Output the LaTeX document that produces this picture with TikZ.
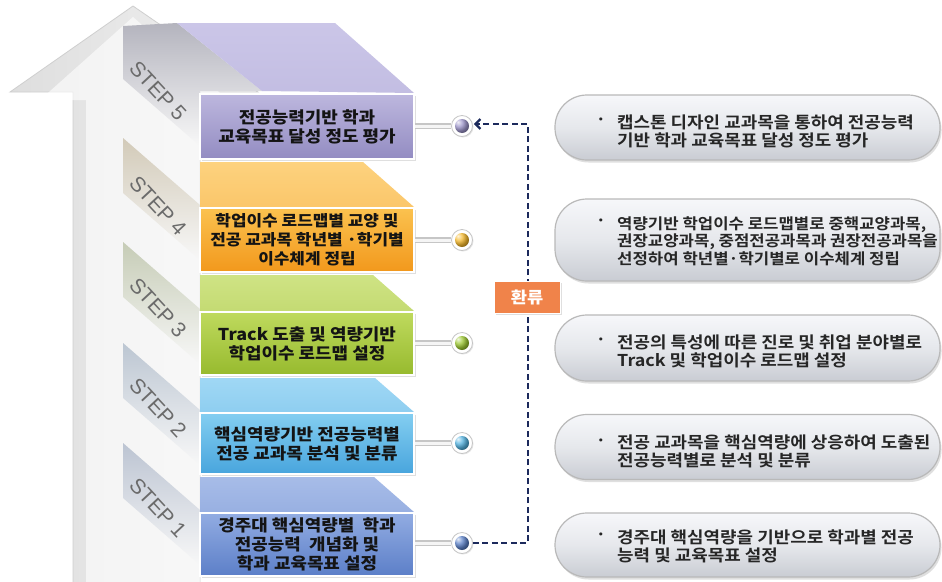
\documentclass[tikz,border=0pt]{standalone}
\usepackage{fontspec}
\IfFontExistsTF{Noto Sans CJK KR Bold}
  {\newfontfamily\kr[FakeStretch=1.1]{Noto Sans CJK KR Bold}}
  {\newfontfamily\kr[FakeStretch=1.1,FakeBold=2]{Noto Sans CJK KR}}
\IfFontExistsTF{Noto Sans CJK KR Black}
  {\newfontfamily\krh[FakeStretch=1.1]{Noto Sans CJK KR Black}}
  {\newfontfamily\krh[FakeStretch=1.1,FakeBold=1.5]{Noto Sans CJK KR Bold}}
\newfontfamily\stepfont{Liberation Sans}
\usetikzlibrary{shadows,arrows.meta}
\definecolor{sAf}{HTML}{BDB7DE}\definecolor{sAb}{HTML}{938CC2}\definecolor{sAt}{HTML}{CBC6E8}\definecolor{sAk}{HTML}{9A92C8}\definecolor{sAn}{HTML}{B4B4BE}
\definecolor{sBf}{HTML}{FBC24F}\definecolor{sBb}{HTML}{F2981C}\definecolor{sBt}{HTML}{FDD27E}\definecolor{sBk}{HTML}{F5B82A}\definecolor{sBn}{HTML}{D2CAB8}
\definecolor{sCf}{HTML}{BFDA5E}\definecolor{sCb}{HTML}{97BA2E}\definecolor{sCt}{HTML}{CFE384}\definecolor{sCk}{HTML}{9CC830}\definecolor{sCn}{HTML}{C6CCB6}
\definecolor{sDf}{HTML}{84CEF1}\definecolor{sDb}{HTML}{48A5DD}\definecolor{sDt}{HTML}{A0D8F5}\definecolor{sDk}{HTML}{52B2E0}\definecolor{sDn}{HTML}{BCC6D2}
\definecolor{sEf}{HTML}{92ACE2}\definecolor{sEb}{HTML}{5C7FC8}\definecolor{sEt}{HTML}{A7BCE8}\definecolor{sEk}{HTML}{5A80C8}\definecolor{sEn}{HTML}{BCC4D2}
\definecolor{navy}{HTML}{1C2A5C}
\definecolor{fborange}{HTML}{F0834A}
\definecolor{pilltop}{HTML}{F6F7FA}\definecolor{pillmid}{HTML}{E6E8EC}\definecolor{pillbot}{HTML}{C9CCD3}
\begin{document}
\begin{tikzpicture}[x=1pt,y=-1pt,
  front/.style n args={2}{draw=white, line width=1.5pt, top color=#1, bottom color=#2,
     minimum width=214pt, inner sep=0pt, align=center,
     font=\krh\fontsize{16.3}{19}\selectfont, text=black!92,
     drop shadow={shadow xshift=2pt, shadow yshift=-2pt, opacity=.25}},
  steplabel/.style={font=\stepfont\fontsize{21}{21}\selectfont, text=black!58, inner sep=0pt},
  knob/.style={circle, minimum size=21pt, inner sep=0pt, draw=gray!45, line width=.8pt, fill=white,
     drop shadow={shadow xshift=1pt, shadow yshift=-1pt, opacity=.2},
     path picture={\shade[ball color=#1] (path picture bounding box.center) circle (7pt);}},
  pipe/.style={draw=gray!45, line width=1.6pt, double=white!92!gray, double distance=3pt},
  fbline/.style={draw=navy, line width=2.6pt, dash pattern=on 6pt off 3.5pt},
  fbbox/.style={fill=fborange, draw=white, line width=1pt, minimum width=66pt, minimum height=32pt,
     text=white, font=\krh\fontsize{16}{19}\selectfont,
     drop shadow={shadow xshift=1.5pt, shadow yshift=-1.5pt, opacity=.25}},
  pill/.style={rounded corners=32pt, draw=gray!55, line width=1.2pt, top color=pilltop, bottom color=pillbot,
     middle color=pillmid, minimum width=385pt,
     drop shadow={shadow xshift=1.5pt, shadow yshift=-2.5pt, opacity=.25}},
  pilltext/.style={align=left, inner sep=0pt, font=\kr\fontsize{16.3}{18}\selectfont, text=black!85},
]
\useasboundingbox (0,0) rectangle (942,581);
\fill[white] (0,0) rectangle (942,581);

% big arrow
\shade[left color=gray!26, right color=gray!10, draw=gray!38, line width=.8pt]
  (73,585) -- (73,92) -- (10,92) -- (133,6) -- (258,92) -- (200,92) -- (200,585) -- cycle;
\fill[white, opacity=.6]
  (86,585) -- (86,100) -- (40,100) -- (133,17) -- (228,100) -- (200,100) -- (200,585) -- cycle;

% side bands
\shade[top color=sAn, bottom color=white!94!gray] (123,26) -- (177,23) -- (262,91) -- (200,91) -- (200,146) -- (123,79) -- cycle;
\shade[top color=sBn, bottom color=white!94!gray] (123,138) -- (200,205) -- (200,260) -- (123,193) -- cycle;
\shade[top color=sCn, bottom color=white!94!gray] (123,242) -- (200,309) -- (200,364) -- (123,297) -- cycle;
\shade[top color=sDn, bottom color=white!94!gray] (123,343) -- (200,410) -- (200,465) -- (123,398) -- cycle;
\shade[top color=sEn, bottom color=white!94!gray] (123,443) -- (200,510) -- (200,565) -- (123,498) -- cycle;

% step labels
\node[steplabel, rotate=-47] (l5) at (158,91) {STEP 5};
\node[steplabel, rotate=-47] (l4) at (158,206) {STEP 4};
\node[steplabel, rotate=-47] (l3) at (158,308) {STEP 3};
\node[steplabel, rotate=-47] (l2) at (158,408) {STEP 2};
\node[steplabel, rotate=-47] (l1) at (158,508) {STEP 1};

% top faces
\shade[top color=sAt, bottom color=sAt!85!sAb] (177,23) -- (335,23) -- (414,93) -- (262,91) -- cycle;
\shade[top color=sBt, bottom color=sBt!80!sBb] (200,162) -- (363,162) -- (414,207) -- (200,207) -- cycle;
\shade[top color=sCt, bottom color=sCt!80!sCb] (200,275) -- (373,275) -- (414,311) -- (200,311) -- cycle;
\shade[top color=sDt, bottom color=sDt!80!sDb] (200,378) -- (375,378) -- (414,412) -- (200,412) -- cycle;
\shade[top color=sEt, bottom color=sEt!80!sEb] (200,477) -- (374,477) -- (414,512) -- (200,512) -- cycle;

% front boxes
\node[front={sAf}{sAb}, minimum height=65pt] (b5) at (307,126.5) {전공능력기반 학과\\교육목표 달성 정도 평가};
\node[front={sBf}{sBb}, minimum height=64pt, font=\krh\fontsize{15.4}{19}\selectfont] (b4) at (307,240) {학업이수 로드맵별 교양 및\\전공 교과목 학년별 ·학기별\\이수체계 정립};
\node[front={sCf}{sCb}, minimum height=63pt] (b3) at (307,343.5) {Track 도출 및 역량기반\\학업이수 로드맵 설정};
\node[front={sDf}{sDb}, minimum height=61pt] (b2) at (307,443.5) {핵심역량기반 전공능력별\\전공 교과목 분석 및 분류};
\node[front={sEf}{sEb}, minimum height=63pt] (b1) at (307,544.5) {경주대 핵심역량별~ 학과\\전공능력~ 개념화 및\\학과 교육목표 설정};

% knobs
\node[knob=sAk] (k5) at (462,126) {};
\node[knob=sBk] (k4) at (462,240) {};
\node[knob=sCk] (k3) at (462,343) {};
\node[knob=sDk] (k2) at (462,443) {};
\node[knob=sEk] (k1) at (462,543) {};

% pipes
\draw[pipe] (b5.east |- k5.west) -- (k5.west);
\draw[pipe] (b4.east |- k4.west) -- (k4.west);
\draw[pipe] (b3.east |- k3.west) -- (k3.west);
\draw[pipe] (b2.east |- k2.west) -- (k2.west);
\draw[pipe] (b1.east |- k1.west) -- (k1.west);

% feedback loop
\coordinate (r1) at (528,543);
\coordinate (r5) at (528,124);
\draw[fbline, -{Straight Barb[length=5pt, width=10pt, line width=2.2pt]}, shorten >=1pt]
  (k1.east) -- (r1) -- (r5) -- (k5.east |- r5);
\node[fbbox] (fb) at (527,297) {환류};

% pills
\node[pill, minimum height=65pt] (p5) at (747.5,127.5) {};
\node[pill, minimum height=82pt] (p4) at (747.5,240) {};
\node[pill, minimum height=66pt] (p3) at (747.5,348) {};
\node[pill, minimum height=65pt] (p2) at (747.5,447) {};
\node[pill, minimum height=64pt] (p1) at (747.5,545) {};

% pill texts
\node[pilltext, anchor=west] (q5) at (617,131) {캡스톤 디자인 교과목을 통하여 전공능력\\기반 학과 교육목표 달성 정도 평가};
\node[pilltext] (d5) at (601,122) {·};
\node[pilltext, anchor=west, font=\kr\fontsize{15.2}{17.5}\selectfont] (q4) at (617,241) {역량기반 학업이수 로드맵별로 중핵교양과목,\\권장교양과목, 중점전공과목과 권장전공과목을\\선정하여 학년별·학기별로 이수체계 정립};
\node[pilltext] (d4) at (601,223) {·};
\node[pilltext, anchor=west] (q3) at (617,351) {전공의 특성에 따른 진로 및 취업 분야별로\\Track 및 학업이수 로드맵 설정};
\node[pilltext] (d3) at (601,342) {·};
\node[pilltext, anchor=west] (q2) at (617,451.5) {전공 교과목을 핵심역량에 상응하여 도출된\\전공능력별로 분석 및 분류};
\node[pilltext] (d2) at (601,443) {·};
\node[pilltext, anchor=west] (q1) at (617,546) {경주대 핵심역량을 기반으로 학과별 전공\\능력 및 교육목표 설정};
\node[pilltext] (d1) at (601,537) {·};
\end{tikzpicture}
\end{document}
